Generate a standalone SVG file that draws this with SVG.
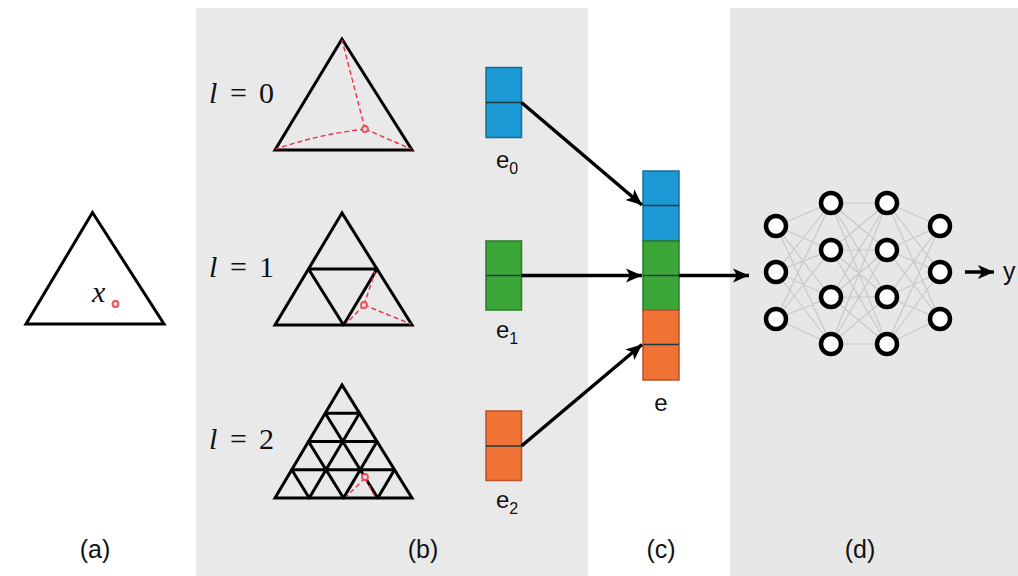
<svg xmlns="http://www.w3.org/2000/svg" width="1018" height="576" viewBox="0 0 1018 576">
<style>
.tri{fill:none;stroke:#000;stroke-width:3;stroke-linejoin:miter}
.grid{fill:none;stroke:#000;stroke-width:3;stroke-linecap:round}
.dash{fill:none;stroke:#e8344a;stroke-width:1.4;stroke-dasharray:5 3}
.pt{fill:#fbe0e0;stroke:#e8505a;stroke-width:1.8}
.math{font-family:"Liberation Serif","DejaVu Serif",serif;font-size:30px;fill:#111}
.lbl{font-family:"Liberation Sans",Arial,sans-serif;font-size:24px;fill:#111}
.cap{font-family:"Liberation Sans",Arial,sans-serif;font-size:25px;fill:#111}
.blue{fill:#1b9ad6;stroke:#1a6d96;stroke-width:1.5}
.green{fill:#3ca639;stroke:#2b7a28;stroke-width:1.5}
.orange{fill:#f07234;stroke:#b9522a;stroke-width:1.5}
.div{stroke:#1d3a40;stroke-width:1.5}
.arrow{stroke:#000;stroke-width:3.5;fill:none;marker-end:url(#ah)}
.nn{fill:#fff;stroke:#000;stroke-width:4.5}
.wire{stroke:#c9c9c9;stroke-width:1.2}
</style>
<defs>
<marker id="ah" markerUnits="userSpaceOnUse" markerWidth="18" markerHeight="16" refX="16" refY="8" orient="auto">
<path d="M0,1 L16,8 L0,15 L4,8 z" fill="#000"/>
</marker>
</defs>
<rect width="1018" height="576" fill="#fff"/>
<g id="panels">
<rect x="196" y="8" width="392" height="568" fill="#e9e9e9"/>
<rect x="730" y="8" width="288" height="568" fill="#e7e7e7"/>
</g>

<g id="panel-a">
<polygon class="tri" points="92.5,212.5 26,324 164,324"/>
<text class="math" x="92" y="302" font-style="italic" font-size="34">x</text>
<circle class="pt" cx="115.5" cy="304" r="3"/>
</g>

<g id="level0">
<text class="math" x="209" y="103" font-style="italic">l</text>
<text class="math" x="238.5" y="103" text-anchor="middle" font-size="34">=</text>
<text class="math" x="266.5" y="103" text-anchor="middle">0</text>
<polygon class="tri" points="342,39 275,150 412,150"/>
<path class="dash" d="M365,129 L342,40 M365,129 Q320,134 276,149 M365,129 L411,149"/>
<circle class="pt" cx="365" cy="129" r="3"/>
</g>

<g id="level1">
<text class="math" x="209" y="277" font-style="italic">l</text>
<text class="math" x="238.5" y="277" text-anchor="middle" font-size="34">=</text>
<text class="math" x="266.5" y="277" text-anchor="middle">1</text>
<polygon class="tri" points="342,213 275,325 412,325"/>
<path class="grid" d="M308.5,269 L377,269 M308.5,269 L343.5,325 M377,269 L343.5,325"/>
<path class="dash" d="M364,305 L346,324 M364,305 L411,324 M364,305 L375,272"/>
<circle class="pt" cx="364" cy="305" r="3"/>
</g>

<g id="level2">
<text class="math" x="209" y="449" font-style="italic">l</text>
<text class="math" x="238.5" y="449" text-anchor="middle" font-size="34">=</text>
<text class="math" x="266.5" y="449" text-anchor="middle">2</text>
<polygon class="tri" points="342,385 275,498 412,498"/>
<path class="grid" d="M325.25,413.25 L359.5,413.25 M308.5,441.5 L377,441.5 M291.75,469.75 L394.5,469.75
M309.25,498 L359.5,413.25 M343.5,498 L377,441.5 M377.75,498 L394.5,469.75
M309.25,498 L291.75,469.75 M343.5,498 L308.5,441.5 M377.75,498 L325.25,413.25"/>
<path class="dash" d="M365,478 L347,496 M365,478 L374,495"/>
<circle class="pt" cx="365" cy="477" r="3"/>
</g>

<g id="e0">
<rect class="blue" x="486" y="67.5" width="35.5" height="70"/>
<line class="div" x1="486" y1="102.5" x2="521.5" y2="102.5"/>
<text class="lbl" x="496" y="168">e<tspan font-size="16" dy="6">0</tspan></text>
</g>
<g id="e1">
<rect class="green" x="486" y="241" width="35.5" height="69"/>
<line class="div" x1="486" y1="275.5" x2="521.5" y2="275.5"/>
<text class="lbl" x="496" y="338">e<tspan font-size="16" dy="6">1</tspan></text>
</g>
<g id="e2">
<rect class="orange" x="486" y="411" width="35.5" height="69.5"/>
<line class="div" x1="486" y1="446" x2="521.5" y2="446"/>
<text class="lbl" x="496" y="508">e<tspan font-size="16" dy="6">2</tspan></text>
</g>

<g id="e">
<rect class="blue" x="643" y="171" width="36" height="70"/>
<rect class="green" x="643" y="241" width="36" height="69"/>
<rect class="orange" x="643" y="310" width="36" height="70"/>
<line class="div" x1="643" y1="205.5" x2="679" y2="205.5"/>
<line class="div" x1="643" y1="275.5" x2="679" y2="275.5"/>
<line class="div" x1="643" y1="344.5" x2="679" y2="344.5"/>
<text class="lbl" x="661" y="411" text-anchor="middle">e</text>
</g>

<g id="connectors">
<line class="arrow" x1="521.5" y1="102.5" x2="642" y2="205"/>
<line class="arrow" x1="521.5" y1="275.5" x2="642" y2="275.5"/>
<line class="arrow" x1="521.5" y1="446" x2="642" y2="344.5"/>
<line class="arrow" x1="679" y1="275.5" x2="749" y2="275.5"/>
<line class="arrow" x1="965" y1="272" x2="994" y2="272"/>
</g>

<g id="network">
<g id="wires">
<path class="wire" d="
M776,226 L831,203 M776,226 L831,250 M776,226 L831,297 M776,226 L831,344
M776,272 L831,203 M776,272 L831,250 M776,272 L831,297 M776,272 L831,344
M776,319 L831,203 M776,319 L831,250 M776,319 L831,297 M776,319 L831,344
M831,203 L887,203 M831,203 L887,250 M831,203 L887,297 M831,203 L887,344
M831,250 L887,203 M831,250 L887,250 M831,250 L887,297 M831,250 L887,344
M831,297 L887,203 M831,297 L887,250 M831,297 L887,297 M831,297 L887,344
M831,344 L887,203 M831,344 L887,250 M831,344 L887,297 M831,344 L887,344
M887,203 L940,226 M887,203 L940,272 M887,203 L940,319
M887,250 L940,226 M887,250 L940,272 M887,250 L940,319
M887,297 L940,226 M887,297 L940,272 M887,297 L940,319
M887,344 L940,226 M887,344 L940,272 M887,344 L940,319"/>
</g>
<g id="layer1">
<circle class="nn" cx="776" cy="226" r="10"/>
<circle class="nn" cx="776" cy="272" r="10"/>
<circle class="nn" cx="776" cy="319" r="10"/>
</g>
<g id="layer2">
<circle class="nn" cx="831" cy="203" r="10"/>
<circle class="nn" cx="831" cy="250" r="10"/>
<circle class="nn" cx="831" cy="297" r="10"/>
<circle class="nn" cx="831" cy="344" r="10"/>
</g>
<g id="layer3">
<circle class="nn" cx="887" cy="203" r="10"/>
<circle class="nn" cx="887" cy="250" r="10"/>
<circle class="nn" cx="887" cy="297" r="10"/>
<circle class="nn" cx="887" cy="344" r="10"/>
</g>
<g id="layer4">
<circle class="nn" cx="940" cy="226" r="10"/>
<circle class="nn" cx="940" cy="272" r="10"/>
<circle class="nn" cx="940" cy="319" r="10"/>
</g>
<text class="cap" x="1003" y="280">y</text>
</g>

<g id="captions">
<text class="cap" x="95" y="558" text-anchor="middle">(a)</text>
<text class="cap" x="423" y="558" text-anchor="middle">(b)</text>
<text class="cap" x="661" y="558" text-anchor="middle">(c)</text>
<text class="cap" x="860" y="558" text-anchor="middle">(d)</text>
</g>
</svg>
